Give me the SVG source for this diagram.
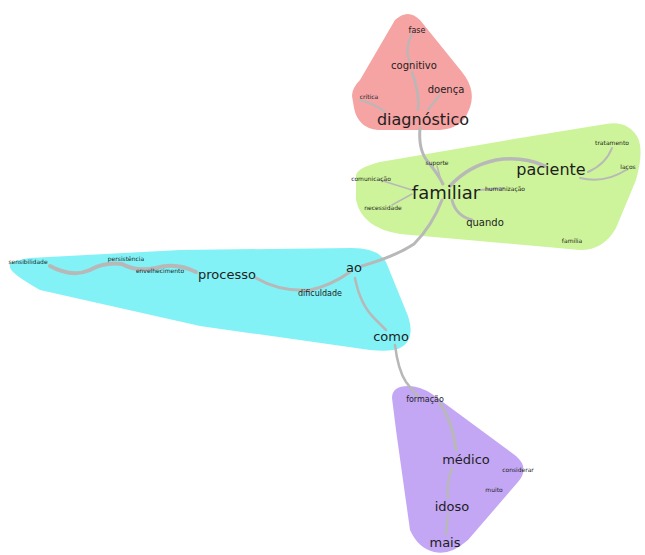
<svg xmlns="http://www.w3.org/2000/svg" width="645" height="555" viewBox="0 0 645 555">
<style>
text{font-family:"DejaVu Sans","Liberation Sans",sans-serif;text-anchor:middle;fill:#1e1e1e;}
.edge{fill:none;stroke:#b8b8b8;stroke-linecap:round;}
.s6{font-size:6px;}
.s8{font-size:8px;}
.s10{font-size:10px;}
.s13{font-size:13px;}
.s16{font-size:16px;}
.s18{font-size:18px;}
</style>
<rect width="645" height="555" fill="#ffffff"/>
<g id="hulls">
<path id="hull-red" d="M395,20 Q408,8 420,20 L462,72 Q478,92 468,112 Q462,128 440,130 L378,130 Q358,128 354,108 L352,96 Q352,88 360,80 Z" fill="#f5a3a3"/>
<path id="hull-green" d="M356,176 Q356,168 380,162 L520,138 L606,124 Q628,120 638,138 Q644,152 636,180 L616,228 Q604,250 580,250 L400,234 Q362,228 356,200 Z" fill="#cdf49a"/>
<path id="hull-cyan" d="M10,266 Q6,262 30,258 L180,250 L352,248 Q378,248 386,262 L408,316 Q416,340 400,348 Q392,352 370,350 L200,326 L40,290 Q8,272 10,266 Z" fill="#82f2f6"/>
<path id="hull-purple" d="M392,398 Q392,386 408,386 Q420,386 432,394 L516,456 Q530,468 518,482 L468,540 Q450,556 434,552 Q418,548 410,530 L396,430 Z" fill="#c3a7f4"/>
</g>
<g id="connectors">
<path class="edge" stroke-width="3" d="M420,128 Q418,150 428,162 Q438,174 443,184"/>
<path class="edge" stroke-width="2" d="M412,34 Q404,50 410,62"/>
<path class="edge" stroke-width="2.5" d="M412,72 Q420,95 418,110"/>
<path class="edge" stroke-width="2" d="M440,95 Q432,104 428,110"/>
<path class="edge" stroke-width="2" d="M360,100 Q375,104 385,112"/>
<path class="edge" stroke-width="3.5" d="M450,186 Q468,166 496,160 Q522,156 545,166"/>
<path class="edge" stroke-width="2" d="M588,172 Q606,164 612,148"/>
<path class="edge" stroke-width="2" d="M580,178 Q604,184 626,170"/>
<path class="edge" stroke-width="3" d="M452,200 Q456,216 472,220"/>
<path class="edge" stroke-width="2" d="M480,190 L504,188"/>
<path class="edge" stroke-width="1.5" d="M437,166 L442,184"/>
<path class="edge" stroke-width="1.5" d="M380,180 L412,190"/>
<path class="edge" stroke-width="1.5" d="M392,205 L412,194"/>
<path class="edge" stroke-width="3" d="M442,200 Q432,226 414,244 Q396,256 362,266"/>
<path class="edge" stroke-width="3" d="M350,272 Q330,286 310,290 Q280,292 256,278"/>
<path class="edge" stroke-width="4" d="M196,272 Q176,262 156,268 Q136,272 122,264 Q104,262 90,270 Q72,278 50,266"/>
<path class="edge" stroke-width="2.5" d="M355,278 Q360,304 374,318 Q382,326 386,330"/>
<path class="edge" stroke-width="2.5" d="M395,345 Q398,370 406,382 Q412,390 418,396"/>
<path class="edge" stroke-width="3" d="M440,404 Q452,420 456,450"/>
<path class="edge" stroke-width="2.5" d="M452,468 Q446,484 448,498"/>
<path class="edge" stroke-width="2.5" d="M448,514 L446,534"/>
</g>
<g id="n-fase"><text class="s8" x="417" y="33">fase</text></g>
<g id="n-cognitivo"><text class="s10" x="414" y="69">cognitivo</text></g>
<g id="n-doenca"><text class="s10" x="446" y="93">doença</text></g>
<g id="n-critica"><text class="s6" x="369" y="99">crítica</text></g>
<g id="n-diagnostico"><text class="s16" x="423" y="125">diagnóstico</text></g>
<g id="n-suporte"><text class="s6" x="437" y="165">suporte</text></g>
<g id="n-comunicacao"><text class="s6" x="371" y="181">comunicação</text></g>
<g id="n-familiar"><text class="s18" x="446" y="199">familiar</text></g>
<g id="n-humanizacao"><text class="s6" x="505" y="191">humanização</text></g>
<g id="n-necessidade"><text class="s6" x="383" y="210">necessidade</text></g>
<g id="n-paciente"><text class="s16" x="551" y="175">paciente</text></g>
<g id="n-tratamento"><text class="s6" x="612" y="145">tratamento</text></g>
<g id="n-lacos"><text class="s6" x="628" y="169">laços</text></g>
<g id="n-quando"><text class="s10" x="485" y="226">quando</text></g>
<g id="n-familia"><text class="s6" x="572" y="243">família</text></g>
<g id="n-ao"><text class="s13" x="354" y="272">ao</text></g>
<g id="n-processo"><text class="s13" x="227" y="279">processo</text></g>
<g id="n-envelhecimento"><text class="s6" x="160" y="273">envelhecimento</text></g>
<g id="n-persistencia"><text class="s6" x="126" y="261">persistência</text></g>
<g id="n-sensibilidade"><text class="s6" x="28" y="264">sensibilidade</text></g>
<g id="n-dificuldade"><text class="s8" x="320" y="296">dificuldade</text></g>
<g id="n-como"><text class="s13" x="391" y="341">como</text></g>
<g id="n-formacao"><text class="s8" x="425" y="402">formação</text></g>
<g id="n-medico"><text class="s13" x="466" y="464">médico</text></g>
<g id="n-considerar"><text class="s6" x="518" y="472">considerar</text></g>
<g id="n-muito"><text class="s6" x="494" y="492">muito</text></g>
<g id="n-idoso"><text class="s13" x="452" y="511">idoso</text></g>
<g id="n-mais"><text class="s13" x="445" y="547">mais</text></g>
</svg>
